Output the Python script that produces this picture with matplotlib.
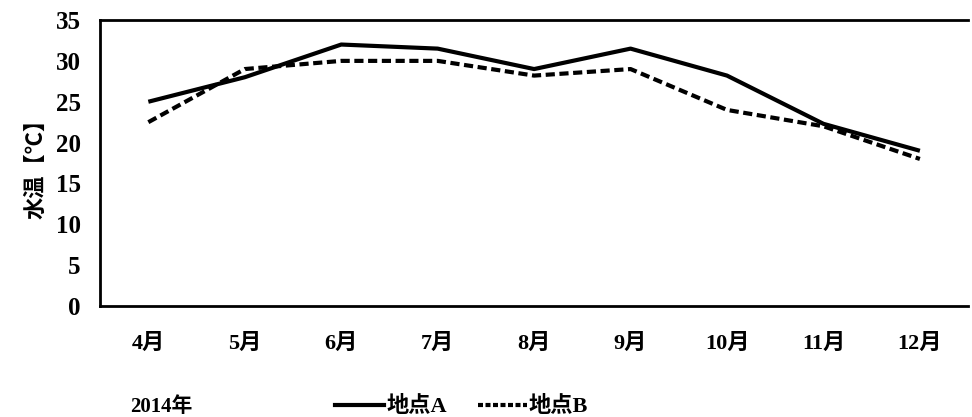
import matplotlib.pyplot as plt
from matplotlib.lines import Line2D

months = ['4月', '5月', '6月', '7月', '8月', '9月', '10月', '11月', '12月']
site_a = [25, 28, 32, 31.5, 29, 31.5, 28.2, 22.3, 19]  # 地点A, solid
site_b = [22.5, 29, 30, 30, 28.2, 29, 24, 22, 18]  # 地点B, dashed
yticks = [0, 5, 10, 15, 20, 25, 30, 35]

fonts = ['Liberation Serif', 'Noto Sans CJK JP', 'DejaVu Sans']
plt.rcParams['font.family'] = fonts
plt.rcParams['font.weight'] = 'bold'

fig = plt.figure(figsize=(9.72, 4.17), dpi=100)
ax = fig.add_axes([0.103, 0.266, 0.893, 0.686])

x = range(len(months))
dash = (0, (2.2, 1.1))
ax.plot(x, site_a, color='black', lw=3, solid_capstyle='butt')
ax.plot(x, site_b, color='black', lw=3, linestyle=dash)

ax.set_xlim(-0.5, len(months) - 0.5)
ax.set_ylim(0, 35)
ax.set_yticks(yticks)
ax.set_xticks(list(x))
ax.set_xticklabels(months)
ax.tick_params(axis='x', length=0, labelsize=16, pad=20)
ax.tick_params(axis='y', length=0, labelsize=18, pad=14)
for lab in ax.get_xticklabels() + ax.get_yticklabels():
    lab.set_fontweight('bold')

for side in ['left', 'bottom', 'top']:
    ax.spines[side].set_linewidth(2)
    ax.spines[side].set_color('black')
ax.spines['right'].set_visible(False)

ax.set_ylabel('水温【℃】', fontsize=16, fontweight='bold', labelpad=6)

fig.text(0.134, 0.024, '2014年', fontsize=15, fontweight='bold', va='center')

handles = [Line2D([], [], color='black', lw=3),
           Line2D([], [], color='black', lw=3, linestyle=(0, (1.2, 0.6)))]
fig.legend(handles, ['地点A', '地点B'], loc='center', bbox_to_anchor=(0.475, 0.024),
           ncol=2, frameon=False, handlelength=2.2, handletextpad=0.1,
           columnspacing=1.4, prop={'family': fonts, 'weight': 'bold', 'size': 16})

fig.savefig('out.png', dpi=100)
